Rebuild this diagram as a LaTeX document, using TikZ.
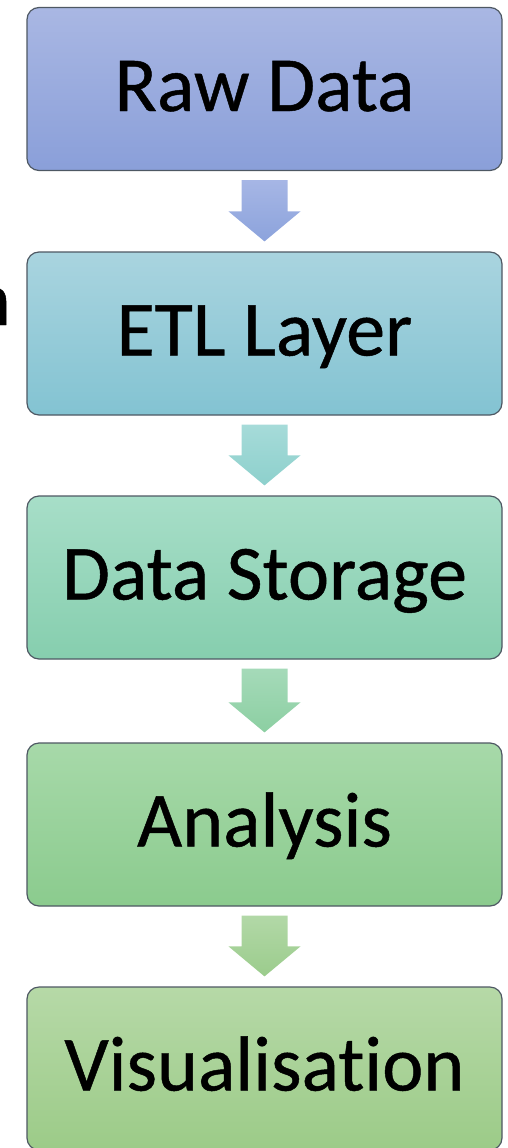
\documentclass[tikz,border=0pt]{standalone}
\usepackage{fontspec}
\setmainfont{Carlito}[Ligatures=NoCommon, FakeBold=0.6]
\usetikzlibrary{calc}

% box fills (top / bottom of each gradient)
\definecolor{rawT}{HTML}{A9B7E3}\definecolor{rawB}{HTML}{8A9FD9}
\definecolor{etlT}{HTML}{A9D4DF}\definecolor{etlB}{HTML}{83C3D2}
\definecolor{stoT}{HTML}{A7DEC8}\definecolor{stoB}{HTML}{86CEAE}
\definecolor{anaT}{HTML}{A7D9A9}\definecolor{anaB}{HTML}{8BCB8E}
\definecolor{visT}{HTML}{B6D9A7}\definecolor{visB}{HTML}{9CCB88}
% arrow fills
\definecolor{arAT}{HTML}{A6B6E5}\definecolor{arAB}{HTML}{8CA3DC}
\definecolor{arBT}{HTML}{A6DBD9}\definecolor{arBB}{HTML}{8DD0CC}
\definecolor{arCT}{HTML}{A5DAB9}\definecolor{arCB}{HTML}{8CCFA2}
\definecolor{arDT}{HTML}{B2D8A7}\definecolor{arDB}{HTML}{9BCC8C}
\definecolor{edge}{HTML}{4E5863}

\tikzset{
  stagebox/.style={draw=edge, line width=1.2pt, rounded corners=12pt,
    minimum width=475pt, minimum height=163pt, inner sep=0pt,
    text height=50pt, text depth=6pt,
    font=\fontsize{78}{90}\selectfont, text=black},
}

% block arrow from the bottom of one stage to the top of the next
\newcommand\flowarrow[4]{%
  \path[top color=#3, bottom color=#4]
    let \p1=(#1.south), \p2=(#2.north) in
    (\x1-23pt,\y1-9pt) -- (\x1+23pt,\y1-9pt) -- (\x1+23pt,\y2+40pt)
    -- (\x1+36pt,\y2+40pt) -- (\x1,\y2+10pt) -- (\x1-36pt,\y2+40pt)
    -- (\x1-23pt,\y2+40pt) -- cycle;}

\begin{document}
\begin{tikzpicture}[x=1pt,y=-1pt]
\useasboundingbox (0,0) rectangle (507,1148);

\node[stagebox, top color=rawT, bottom color=rawB] (raw) at (264.5,89)     {Raw Data};
\node[stagebox, top color=etlT, bottom color=etlB] (etl) at (264.5,333.5)  {ETL Layer};
\node[stagebox, top color=stoT, bottom color=stoB] (sto) at (264.5,577.5)  {Data Storage};
\node[stagebox, top color=anaT, bottom color=anaB] (ana) at (264.5,824.5)  {Analysis};
\node[stagebox, top color=visT, bottom color=visB] (vis) at (264.5,1068.5) {Visualisation};

\flowarrow{raw}{etl}{arAT}{arAB}
\flowarrow{etl}{sto}{arBT}{arBB}
\flowarrow{sto}{ana}{arCT}{arCB}
\flowarrow{ana}{vis}{arDT}{arDB}

% tail of a word running in from the left margin
\node[anchor=base east, inner sep=0pt, font=\fontsize{78}{90}\selectfont] (cut) at (11,325) {n};
\end{tikzpicture}
\end{document}
